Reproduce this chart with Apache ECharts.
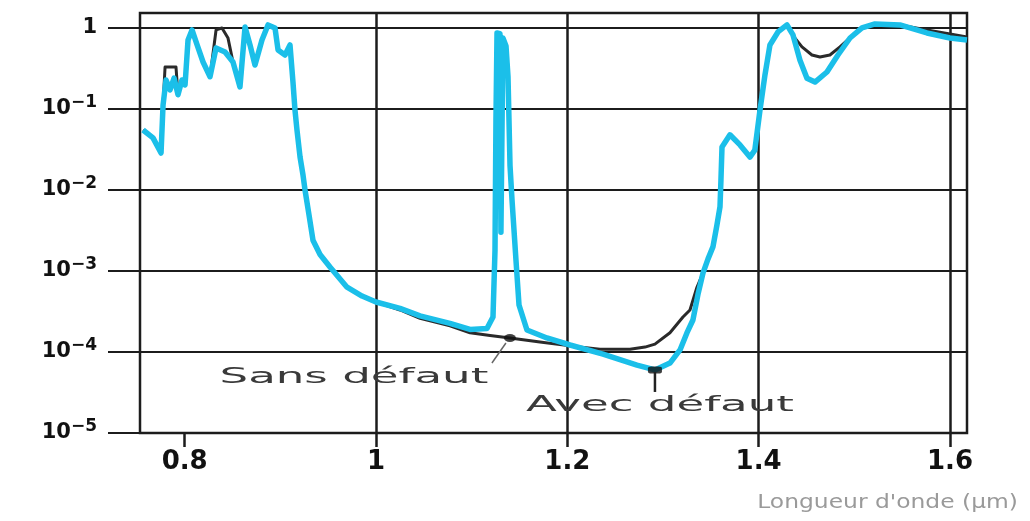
<!DOCTYPE html>
<html>
<head>
<meta charset="utf-8">
<script src="https://cdn.jsdelivr.net/npm/echarts@6/dist/echarts.min.js"></script>
<style>
  html, body { margin: 0; padding: 0; background: #ffffff; }
  #chart { width: 1030px; height: 521px; }
</style>
</head>
<body>
<div id="chart"></div>
<script>
// Transmission spectrum of a photonic crystal, with and without a defect (log scale)

// Wavelength (µm) and transmission, structure with defect (cyan curve)
const avecX = [
  0.7565, 0.7669, 0.7753, 0.7774, 0.7805, 0.7847, 0.7889, 0.7930, 0.7972, 0.8004,
  0.8035, 0.8077, 0.8130, 0.8192, 0.8265, 0.8328, 0.8422, 0.8505, 0.8578, 0.8631,
  0.8683, 0.8735, 0.8808, 0.8871, 0.8944, 0.8976, 0.9049, 0.9101, 0.9132, 0.9153,
  0.9174, 0.9206, 0.9237, 0.9258, 0.9300, 0.9341, 0.9415, 0.9519, 0.9697, 0.9854,
  1.0000, 1.0251, 1.0460, 1.0773, 1.0983, 1.1160, 1.1223, 1.1244, 1.1254, 1.1265,
  1.1296, 1.1306, 1.1317, 1.1327, 1.1359, 1.1380, 1.1401, 1.1422, 1.1463, 1.1495,
  1.1578, 1.1787, 1.2028, 1.2373, 1.2728, 1.2916, 1.3073, 1.3178, 1.3250, 1.3313,
  1.3365, 1.3418, 1.3470, 1.3523, 1.3564, 1.3596, 1.3606, 1.3617, 1.3700, 1.3805,
  1.3909, 1.3960, 1.4014, 1.4066, 1.4118, 1.4202, 1.4296, 1.4359, 1.4432, 1.4505,
  1.4589, 1.4714, 1.4829, 1.4955, 1.5080, 1.5216, 1.5477, 1.5759, 1.6000, 1.6178
];
const avecY = [
  0.055, 0.044, 0.0286, 0.112, 0.228, 0.172, 0.24, 0.15, 0.228, 0.198,
  0.711, 0.945, 0.617, 0.38, 0.25, 0.565, 0.505, 0.38, 0.187, 1.03,
  0.617, 0.349, 0.711, 1.09, 1.0, 0.535, 0.464, 0.617, 0.215, 0.097,
  0.055, 0.0255, 0.0153, 0.01, 0.0049, 0.0024, 0.0016, 0.00112, 0.00063, 0.00049,
  0.000414, 0.000345, 0.000279, 0.000226, 0.00019, 0.000195, 0.00027, 0.0018, 0.073, 0.867,
  0.85, 0.003, 0.003, 0.75, 0.6, 0.25, 0.02, 0.0075, 0.00137, 0.00038,
  0.000187, 0.000149, 0.000122, 0.000094, 0.000069, 0.00006, 0.000073, 0.000106, 0.000172, 0.000248,
  0.00051, 0.00094, 0.0014, 0.002, 0.0037, 0.0062, 0.0133, 0.034, 0.048, 0.036,
  0.0255, 0.031, 0.097, 0.263, 0.617, 0.893, 1.09, 0.82, 0.40, 0.24,
  0.215, 0.286, 0.464, 0.752, 1.0, 1.12, 1.09, 0.867, 0.752, 0.711
];

// Wavelength (µm) and transmission, perfect structure (dark curve)
const sansX = [
  0.7565, 0.7669, 0.7753, 0.7774, 0.7795, 0.7909, 0.7930, 0.7972, 0.8004, 0.8035,
  0.8077, 0.8130, 0.8192, 0.8265, 0.8328, 0.8390, 0.8453, 0.8505, 0.8578, 0.8631,
  0.8683, 0.8735, 0.8808, 0.8871, 0.8944, 0.8976, 0.9049, 0.9101, 0.9132, 0.9153,
  0.9174, 0.9206, 0.9237, 0.9258, 0.9300, 0.9341, 0.9415, 0.9519, 0.9697, 0.9854,
  1.0000, 1.0251, 1.0460, 1.0773, 1.0983, 1.1192, 1.1400, 1.1714, 1.2028, 1.2341,
  1.2655, 1.2812, 1.2916, 1.3073, 1.3209, 1.3282, 1.3355, 1.3418, 1.3470, 1.3523,
  1.3564, 1.3596, 1.3606, 1.3617, 1.3700, 1.3805, 1.3909, 1.3960, 1.4014, 1.4066,
  1.4118, 1.4202, 1.4296, 1.4380, 1.4453, 1.4557, 1.4641, 1.4745, 1.4850, 1.4955,
  1.5080, 1.5216, 1.5477, 1.5759, 1.6000, 1.6178
];
const sansY = [
  0.055, 0.044, 0.0286, 0.112, 0.33, 0.33, 0.15, 0.228, 0.198, 0.711,
  0.945, 0.617, 0.38, 0.25, 0.945, 1.0, 0.75, 0.38, 0.187, 1.03,
  0.617, 0.349, 0.711, 1.09, 1.0, 0.535, 0.464, 0.617, 0.215, 0.097,
  0.055, 0.0255, 0.0153, 0.01, 0.0049, 0.0024, 0.0016, 0.00112, 0.00063, 0.00049,
  0.000414, 0.00033, 0.00026, 0.00021, 0.000173, 0.00016, 0.000149, 0.000133, 0.000119, 0.000108,
  0.000108, 0.000115, 0.000125, 0.000173, 0.00027, 0.00033, 0.00063, 0.00094, 0.0014, 0.002,
  0.0037, 0.0062, 0.0133, 0.034, 0.048, 0.036, 0.0255, 0.031, 0.097, 0.263,
  0.617, 0.893, 1.09, 0.75, 0.583, 0.464, 0.438, 0.464, 0.583, 0.752,
  1.0, 1.12, 1.09, 0.945, 0.84, 0.774
];

// Labelled points on each curve
const seriesNames = ['Sans défaut', 'Avec défaut'];
const markerX = [1.14, 1.2916];
const markerY = [0.000149, 0.00006];

// Axes
const xMin = 0.7533, xMax = 1.6178;
const yMin = 1e-5, yMax = 1.53;
const xTickValues = [0.8, 1.0, 1.2, 1.4, 1.6];
const xTickLabels = ['0.8', '1', '1.2', '1.4', '1.6'];
const xGridValues = [1.0, 1.2, 1.4, 1.6];
const yTickValues = [1e-5, 1e-4, 1e-3, 1e-2, 1e-1, 1];
const xAxisTitle = "Longueur d'onde (µm)";

const INK = '#1c1c1c';
const CYAN = '#1bbfe9';

const pairs = (xs, ys) => xs.map((x, i) => [x, ys[i]]);

const chart = echarts.init(document.getElementById('chart'), null, { renderer: 'canvas' });

chart.setOption({
  animation: false,
  backgroundColor: '#ffffff',
  grid: {
    left: 140, right: 63, top: 13, bottom: 88,
    show: true, borderColor: INK, borderWidth: 2.5, backgroundColor: 'transparent'
  },
  xAxis: {
    type: 'value', min: xMin, max: xMax,
    axisLine: { show: false },
    splitLine: { show: false },
    axisTick: {
      show: true, length: 14, customValues: xTickValues,
      lineStyle: { color: INK, width: 2.5 }
    },
    axisLabel: {
      customValues: xTickValues, margin: 16,
      fontFamily: 'DejaVu Sans', fontWeight: 'bold', fontSize: 26, color: '#111',
      formatter: v => {
        const i = xTickValues.findIndex(t => Math.abs(t - v) < 1e-9);
        return i >= 0 ? xTickLabels[i] : '';
      }
    }
  },
  yAxis: {
    type: 'log', logBase: 10, min: yMin, max: yMax,
    axisLine: { show: false },
    splitLine: { show: true, lineStyle: { color: INK, width: 2 } },
    axisTick: {
      show: true, length: 32, customValues: yTickValues,
      lineStyle: { color: INK, width: 2 }
    },
    axisLabel: {
      customValues: yTickValues, margin: 43,
      formatter: v => {
        const e = Math.round(Math.log10(v));
        if (e === 0) return '{b|1}';
        return '{b|10}{s|\u2212' + (-e) + '}';
      },
      rich: {
        b: { fontFamily: 'DejaVu Sans', fontWeight: 'bold', fontSize: 21, color: '#111' },
        s: { fontFamily: 'DejaVu Sans', fontWeight: 'bold', fontSize: 17, color: '#111', padding: [0, 0, 12, 0] }
      }
    }
  },
  series: [
    {
      type: 'line', name: seriesNames[0],
      data: pairs(sansX, sansY),
      showSymbol: false, z: 3,
      lineStyle: { color: '#2a2a2a', width: 3, join: 'round' },
      markLine: {
        silent: true, z: 1, animation: false,
        symbol: ['none', 'none'],
        label: { show: false },
        lineStyle: { color: INK, width: 2.5, type: 'solid' },
        emphasis: { disabled: true },
        data: xGridValues.map(v => ({ xAxis: v }))
      }
    },
    {
      type: 'line', name: seriesNames[1],
      data: pairs(avecX, avecY),
      showSymbol: false, z: 4,
      lineStyle: { color: CYAN, width: 5.5, join: 'round' }
    },
    {
      type: 'scatter', name: 'repères', z: 6, silent: true,
      data: [
        { value: [markerX[0], markerY[0]], symbol: 'circle', symbolSize: [12, 8] },
        { value: [markerX[1], markerY[1]], symbol: 'roundRect', symbolSize: [14, 7] }
      ],
      itemStyle: { color: '#111' }
    }
  ]
});

// Annotation labels and leaders, anchored on the marked points
const pSans = chart.convertToPixel({ gridIndex: 0 }, [markerX[0], markerY[0]]);
const pAvec = chart.convertToPixel({ gridIndex: 0 }, [markerX[1], markerY[1]]);
const pEnd = chart.convertToPixel({ gridIndex: 0 }, [xMax, yMin]);

const labelFont = '22px "DejaVu Sans"';
chart.setOption({
  graphic: [
    {
      type: 'line', silent: true, z: 7,
      shape: { x1: pSans[0] - 4, y1: pSans[1] + 5, x2: pSans[0] - 18, y2: pSans[1] + 25 },
      style: { stroke: '#666', lineWidth: 1.5 }
    },
    {
      type: 'text', silent: true, z: 7,
      x: pSans[0] - 156, y: pSans[1] + 39, scaleX: 2.05,
      style: {
        text: seriesNames[0], font: labelFont, fill: '#3a3a3a',
        textAlign: 'center', align: 'center',
        textVerticalAlign: 'middle', verticalAlign: 'middle'
      }
    },
    {
      type: 'line', silent: true, z: 7,
      shape: { x1: pAvec[0], y1: pAvec[1] + 2, x2: pAvec[0], y2: pAvec[1] + 22 },
      style: { stroke: '#222', lineWidth: 2.5 }
    },
    {
      type: 'text', silent: true, z: 7,
      x: pAvec[0] + 5, y: pAvec[1] + 35, scaleX: 2.05,
      style: {
        text: seriesNames[1], font: labelFont, fill: '#3a3a3a',
        textAlign: 'center', align: 'center',
        textVerticalAlign: 'middle', verticalAlign: 'middle'
      }
    },
    {
      type: 'text', silent: true, z: 7,
      x: pEnd[0] + 51, y: pEnd[1] + 70, scaleX: 1.17,
      style: {
        text: xAxisTitle, font: '20px "DejaVu Sans"', fill: '#9a9a9a',
        textAlign: 'right', align: 'right',
        textVerticalAlign: 'middle', verticalAlign: 'middle'
      }
    }
  ]
});
</script>
</body>
</html>
